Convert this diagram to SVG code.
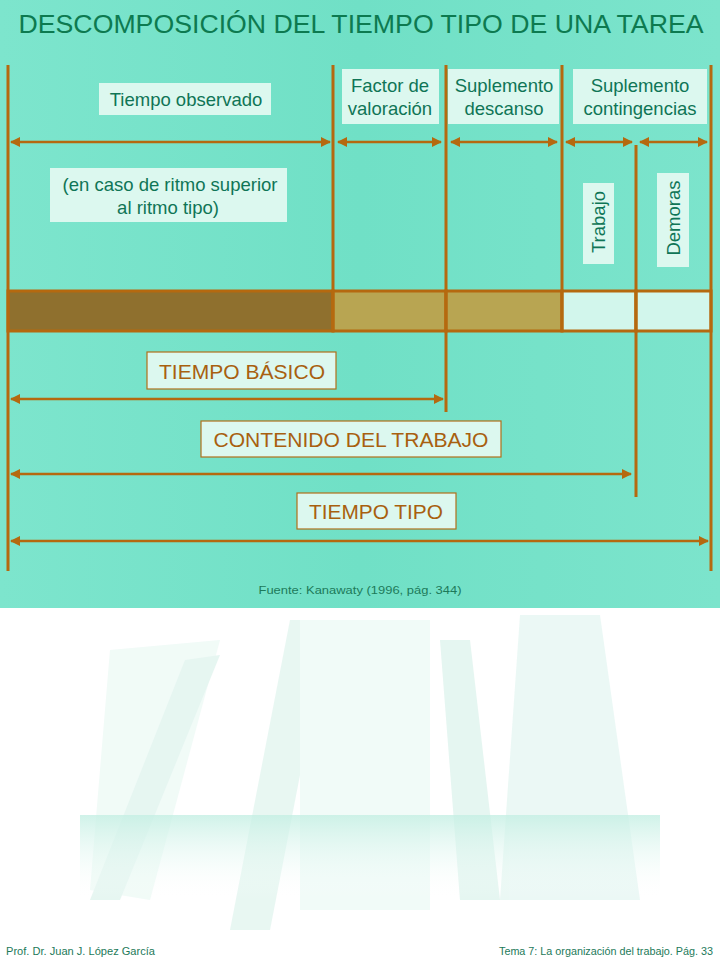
<svg xmlns="http://www.w3.org/2000/svg" width="720" height="960" viewBox="0 0 720 960">
<defs>
<style>
.ln{stroke:#b5690f;stroke-width:3;fill:none}
.ar{stroke:#b5690f;stroke-width:2.5;fill:none;marker-start:url(#ah);marker-end:url(#ah)}
.lb{fill:#dcf8ef}
.lbb{fill:#dcf8ef;stroke:#b0701a;stroke-width:1.2}
.tg{font-family:"Liberation Sans",Arial,sans-serif;font-size:18.5px;fill:#0f7556;text-anchor:middle}
.tb{font-family:"Liberation Sans",Arial,sans-serif;font-size:21px;fill:#a8600f;text-anchor:middle}
.ft{font-family:"Liberation Sans",Arial,sans-serif;font-size:11px;fill:#1d7a5a}
.seg{stroke:#b5690f;stroke-width:3}
</style>
<marker id="ah" viewBox="0 0 10 10" refX="9" refY="5" markerWidth="4" markerHeight="4" orient="auto-start-reverse" markerUnits="strokeWidth">
<path d="M0,0 L10,5 L0,10 z" fill="#b5690f"/>
</marker>
<linearGradient id="bg" x1="0" y1="0" x2="1" y2="0">
<stop offset="0" stop-color="#7de5cd"/>
<stop offset="0.5" stop-color="#70e0c6"/>
<stop offset="1" stop-color="#7ce4cc"/>
</linearGradient>
<linearGradient id="fade" x1="0" y1="0" x2="0" y2="1">
<stop offset="0" stop-color="#c4efe3" stop-opacity="0.8"/>
<stop offset="1" stop-color="#ffffff" stop-opacity="0"/>
</linearGradient>
</defs>
<g id="background">
<rect x="0" y="0" width="720" height="960" fill="#ffffff"/>
<g opacity="0.55">
<polygon points="110,650 220,640 150,900 90,890" fill="#e6f8f2"/>
<polygon points="185,660 220,655 120,900 90,900" fill="#d3efe7"/>
<polygon points="290,620 330,620 270,930 230,930" fill="#d6f1e9"/>
<rect x="300" y="620" width="130" height="290" fill="#e6f9f3"/>
<polygon points="520,615 600,615 640,900 500,900" fill="#daf3ec"/>
<polygon points="440,640 470,640 500,900 460,900" fill="#d1efe6"/>
</g>
<rect x="80" y="815" width="580" height="85" fill="url(#fade)"/>
<rect x="0" y="0" width="720" height="608" fill="url(#bg)"/>
</g>
<g id="title">
<text x="361" y="33" font-family="'Liberation Sans',Arial,sans-serif" font-size="26" fill="#0d7a50" text-anchor="middle" textLength="685" lengthAdjust="spacingAndGlyphs">DESCOMPOSICIÓN DEL TIEMPO TIPO DE UNA TAREA</text>
</g>
<g id="bar">
<rect x="8" y="291" width="325" height="40" fill="#8f702e" class="seg"/>
<rect x="333" y="291" width="113" height="40" fill="#b8a552" class="seg"/>
<rect x="446" y="291" width="116" height="40" fill="#b8a552" class="seg"/>
<rect x="562" y="291" width="74" height="40" fill="#d2f6ec" class="seg"/>
<rect x="636" y="291" width="75" height="40" fill="#d2f6ec" class="seg"/>
</g>
<g id="connectors">
<line class="ln" x1="8" y1="65" x2="8" y2="571"/>
<line class="ln" x1="333" y1="65" x2="333" y2="331"/>
<line class="ln" x1="446" y1="65" x2="446" y2="412"/>
<line class="ln" x1="562" y1="65" x2="562" y2="331"/>
<line class="ln" x1="636" y1="145" x2="636" y2="497"/>
<line class="ln" x1="711" y1="65" x2="711" y2="571"/>
<line class="ar" x1="11" y1="142" x2="330" y2="142"/>
<line class="ar" x1="338" y1="142" x2="441" y2="142"/>
<line class="ar" x1="451" y1="142" x2="557" y2="142"/>
<line class="ar" x1="566" y1="142" x2="632" y2="142"/>
<line class="ar" x1="640" y1="142" x2="707" y2="142"/>
<line class="ar" x1="11" y1="399" x2="443" y2="399"/>
<line class="ar" x1="11" y1="474" x2="631" y2="474"/>
<line class="ar" x1="11" y1="541" x2="708" y2="541"/>
</g>
<g id="tiempo-observado">
<rect class="lb" x="99" y="83" width="172" height="32"/>
<text class="tg" x="186" y="106">Tiempo observado</text>
</g>
<g id="ritmo">
<rect class="lb" x="50" y="168" width="237" height="54"/>
<text class="tg" x="170" y="191">(en caso de ritmo superior</text>
<text class="tg" x="168" y="214">al ritmo tipo)</text>
</g>
<g id="factor">
<rect class="lb" x="342" y="69" width="97" height="55"/>
<text class="tg" x="390" y="92">Factor de</text>
<text class="tg" x="390" y="115">valoración</text>
</g>
<g id="descanso">
<rect class="lb" x="448" y="69" width="111" height="55"/>
<text class="tg" x="504" y="92">Suplemento</text>
<text class="tg" x="504" y="115">descanso</text>
</g>
<g id="contingencias">
<rect class="lb" x="573" y="69" width="134" height="55"/>
<text class="tg" x="640" y="92">Suplemento</text>
<text class="tg" x="640" y="115">contingencias</text>
</g>
<g id="trabajo">
<rect class="lb" x="583" y="183" width="31" height="81"/>
<text class="tg" transform="translate(605,222) rotate(-90)" font-size="19">Trabajo</text>
</g>
<g id="demoras">
<rect class="lb" x="657" y="173" width="32" height="94"/>
<text class="tg" transform="translate(680,218) rotate(-90)" font-size="20">Demoras</text>
</g>
<g id="tiempo-basico">
<rect class="lbb" x="147" y="352" width="189" height="37"/>
<text class="tb" x="242" y="379" textLength="166" lengthAdjust="spacingAndGlyphs">TIEMPO BÁSICO</text>
</g>
<g id="contenido">
<rect class="lbb" x="201" y="421" width="300" height="36"/>
<text class="tb" x="351" y="447" textLength="275" lengthAdjust="spacingAndGlyphs">CONTENIDO  DEL TRABAJO</text>
</g>
<g id="tiempo-tipo">
<rect class="lbb" x="297" y="493" width="159" height="36"/>
<text class="tb" x="376" y="519" textLength="134" lengthAdjust="spacingAndGlyphs">TIEMPO TIPO</text>
</g>
<g id="fuente">
<text class="ft" x="360" y="594" text-anchor="middle" font-size="12.5" textLength="203" lengthAdjust="spacingAndGlyphs">Fuente: Kanawaty (1996, pág. 344)</text>
</g>
<g id="footer">
<text class="ft" x="6" y="955" textLength="149" lengthAdjust="spacingAndGlyphs">Prof. Dr. Juan J. López García</text>
<text class="ft" x="713" y="955" text-anchor="end" textLength="214" lengthAdjust="spacingAndGlyphs">Tema 7: La organización del trabajo. Pág. 33</text>
</g>
</svg>
